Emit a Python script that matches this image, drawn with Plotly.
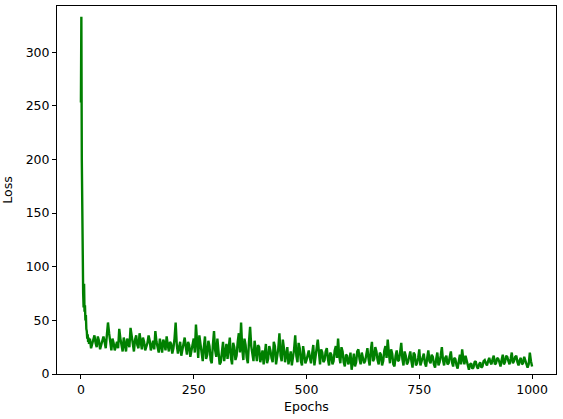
import plotly.graph_objects as go

# early epochs: explicit
early_epochs = list(range(0, 20))
early_loss = [253, 333, 200, 110, 85, 75, 62, 84, 58, 64,
              50, 55, 42, 40, 33, 37, 30, 34, 28, 32]

# later epochs: every 5th epoch
later_epochs = list(range(20, 1001, 5))
later_loss = [
    # 20 - 245
    33, 28, 36, 25, 31, 27, 35, 24, 48, 26, 33, 22, 30, 42, 25, 34, 21, 29, 43, 24,
    32, 27, 38, 23, 30, 26, 36, 22, 31, 40, 24, 33, 20, 29, 35, 21, 28, 24, 48, 19,
    30, 22, 34, 18, 27, 21,
    # 250 - 500
    33, 46, 15, 28, 12, 35, 18, 26, 10, 40, 16, 24, 11, 30, 19, 14, 34, 9, 25, 17,
    38, 48, 13, 27, 10, 44, 20, 31, 12, 25, 16, 9, 28, 14, 22, 11, 26, 15, 38, 12,
    24, 18, 9, 21, 14, 36, 11, 24, 8, 19, 13,
    # 505 - 750
    22, 10, 27, 14, 32, 9, 20, 13, 24, 8, 18, 12, 26, 33, 10, 21, 7, 17, 12, 4,
    19, 11, 23, 9, 16, 12, 24, 8, 30, 14, 21, 9, 18, 12, 26, 32, 10, 19, 7, 22,
    13, 29, 8, 17, 11, 21, 6, 18, 10, 23,
    # 755 - 1000
    12, 19, 7, 22, 10, 16, 6, 20, 11, 25, 8, 17, 10, 21, 7, 14, 5, 18, 23, 9,
    13, 4, 10, 6, 12, 5, 11, 7, 13, 8, 15, 9, 17, 10, 14, 7, 18, 11, 16, 9,
    20, 12, 17, 8, 15, 10, 13, 6, 20, 7,
]

# in-between readings at 22.5, 27.5, ... 997.5
mid_epochs = [e + 2.5 for e in range(20, 1000, 5)]
mid_loss = [
    # 22.5 - 247.5
    24, 31, 29, 35, 23, 32, 30, 36, 38, 22, 29, 27, 24, 33, 21, 28, 33, 25, 34, 21,
    36, 24, 30, 34, 22, 29, 31, 26, 23, 30, 20, 28, 32, 22, 27, 30, 19, 33, 27, 25,
    17, 28, 25, 30, 16, 26,
    # 252.5 - 502.5
    20, 30, 36, 18, 25, 14, 31, 13, 27, 22, 33, 9, 22, 12, 28, 24, 15, 29, 13, 30,
    20, 24, 33, 15, 30, 26, 12, 20, 27, 11, 22, 20, 10, 26, 15, 30, 9, 24, 17, 32,
    11, 25, 16, 8, 23, 17, 29, 12, 26, 10, 17,
    # 507.5 - 752.5
    15, 19, 8, 24, 16, 23, 11, 21, 14, 20, 9, 22, 15, 17, 25, 11, 18, 9, 20, 11,
    7, 21, 14, 20, 10, 19, 14, 22, 12, 25, 13, 20, 8, 22, 15, 20, 23, 9, 17, 12,
    20, 14, 21, 9, 16, 12, 20, 8, 15, 8,
    # 757.5 - 997.5
    16, 10, 15, 12, 18, 9, 14, 8, 17, 13, 15, 9, 16, 11, 15, 8, 12, 9, 14, 17,
    7, 9, 5, 11, 7, 9, 6, 12, 10, 12, 11, 14, 9, 15, 11, 13, 9, 17, 12, 14,
    10, 16, 11, 13, 9, 16, 11, 9, 12,
]
assert len(later_loss) == len(later_epochs), len(later_loss)
assert len(mid_loss) == len(mid_epochs), len(mid_loss)

points = sorted(zip(early_epochs + later_epochs + mid_epochs,
                    early_loss + later_loss + mid_loss))
epochs = [p[0] for p in points]
loss = [p[1] for p in points]

fig = go.Figure()

fig.add_trace(go.Scatter(
    x=epochs, y=loss, mode="lines",
    line=dict(color="#008000", width=2.4),
    showlegend=False,
))

font = dict(family="DejaVu Sans", size=12.5, color="black")
axis_style = dict(
    showline=True, linecolor="black", linewidth=1, mirror=True,
    ticks="outside", ticklen=4, tickcolor="black", tickwidth=1,
    showgrid=False, zeroline=False, automargin=False,
    tickfont=font,
)

fig.update_xaxes(
    range=[-53, 1053], tickvals=[0, 250, 500, 750, 1000],
    title=dict(text="Epochs", font=font, standoff=6),
    **axis_style,
)
fig.update_yaxes(
    range=[0, 343], tickvals=[0, 50, 100, 150, 200, 250, 300],
    title=dict(text="Loss", font=font, standoff=12),
    **axis_style,
)

fig.update_layout(
    width=563, height=419,
    margin=dict(l=57, r=7, t=6, b=45),
    plot_bgcolor="white", paper_bgcolor="white",
)

# drop the default page margin so the figure sits at the window's corner
fig.write_html(
    "out.html",
    config={"responsive": False, "displayModeBar": False},
    post_script="document.body.style.margin='0px';"
                "document.body.style.overflow='hidden';",
)
